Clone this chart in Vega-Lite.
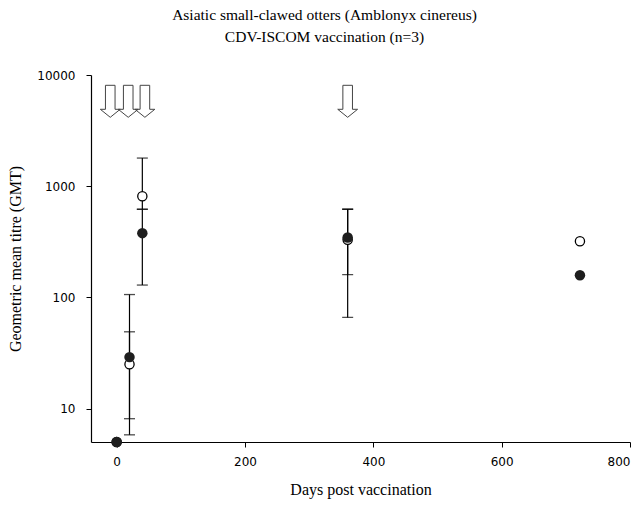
{
  "$schema": "https://vega.github.io/schema/vega-lite/v6.json",
  "width": 539,
  "height": 367,
  "autosize": {"type": "none"},
  "padding": {"left": 91, "top": 75, "right": 14, "bottom": 64},
  "background": "white",
  "title": {
    "text": ["Asiatic small-clawed otters (Amblonyx cinereus)", "CDV-ISCOM vaccination (n=3)"],
    "font": "Liberation Serif",
    "fontSize": 15.5,
    "fontWeight": "normal",
    "color": "black",
    "lineHeight": 22,
    "anchor": "middle",
    "frame": "group",
    "dx": -36,
    "offset": 24
  },
  "datasets": {
    "pts": [
      {"day": 0, "series": "open", "gmt": 5},
      {"day": 0, "series": "filled", "gmt": 5},
      {"day": 20, "series": "open", "gmt": 25},
      {"day": 20, "series": "filled", "gmt": 29},
      {"day": 40, "series": "open", "gmt": 813},
      {"day": 40, "series": "filled", "gmt": 378},
      {"day": 360, "series": "open", "gmt": 330},
      {"day": 360, "series": "filled", "gmt": 345},
      {"day": 722, "series": "open", "gmt": 320},
      {"day": 722, "series": "filled", "gmt": 158}
    ],
    "errs": [
      {"day": 20, "series": "filled", "lo": 8.1, "hi": 106},
      {"day": 20, "series": "open", "lo": 5.8, "hi": 49},
      {"day": 40, "series": "filled", "lo": 129, "hi": 620},
      {"day": 40, "series": "open", "lo": 620, "hi": 1790},
      {"day": 360, "series": "filled", "lo": 160, "hi": 620},
      {"day": 360, "series": "open", "lo": 66, "hi": 620}
    ],
    "arrows": [
      {"day": -10, "level": 5800},
      {"day": 18, "level": 5800},
      {"day": 44, "level": 5800},
      {"day": 360, "level": 5800}
    ]
  },
  "layer": [
    {
      "data": {"name": "errs"},
      "mark": {"type": "rule", "color": "black", "strokeWidth": 1.2},
      "encoding": {
        "x": {"field": "day", "type": "quantitative", "scale": {"domain": [-40, 800], "nice": false, "zero": false},
          "axis": {"title": "Days post vaccination", "values": [0, 200, 400, 600, 800], "grid": false}},
        "y": {"field": "lo", "type": "quantitative", "scale": {"type": "log", "domain": [5, 10000], "nice": false, "zero": false},
          "axis": {"title": "Geometric mean titre (GMT)", "values": [10, 100, 1000, 10000], "format": "d", "grid": false}},
        "y2": {"field": "hi"}
      }
    },
    {
      "data": {"name": "errs"},
      "mark": {"type": "tick", "orient": "horizontal", "color": "black", "size": 11, "thickness": 1.3},
      "encoding": {
        "x": {"field": "day", "type": "quantitative"},
        "y": {"field": "lo", "type": "quantitative"}
      }
    },
    {
      "data": {"name": "errs"},
      "mark": {"type": "tick", "orient": "horizontal", "color": "black", "size": 11, "thickness": 1.3},
      "encoding": {
        "x": {"field": "day", "type": "quantitative"},
        "y": {"field": "hi", "type": "quantitative"}
      }
    },
    {
      "data": {"name": "pts"},
      "transform": [{"filter": "datum.series === 'open'"}],
      "mark": {"type": "point", "shape": "circle", "filled": true, "fill": "white", "stroke": "black", "strokeWidth": 1.3, "size": 85, "opacity": 1},
      "encoding": {
        "x": {"field": "day", "type": "quantitative"},
        "y": {"field": "gmt", "type": "quantitative"}
      }
    },
    {
      "data": {"name": "pts"},
      "transform": [{"filter": "datum.series === 'filled'"}],
      "mark": {"type": "point", "shape": "circle", "filled": true, "color": "#1e1e1e", "size": 110, "opacity": 1},
      "encoding": {
        "x": {"field": "day", "type": "quantitative"},
        "y": {"field": "gmt", "type": "quantitative"}
      }
    },
    {
      "data": {"name": "arrows"},
      "mark": {"type": "point", "shape": "M -0.3 -1 L 0.3 -1 L 0.3 0.5 L 0.62 0.5 L 0 1 L -0.62 0.5 L -0.3 0.5 Z", "filled": false, "stroke": "#444", "strokeWidth": 1, "size": 1024, "opacity": 1},
      "encoding": {
        "x": {"field": "day", "type": "quantitative"},
        "y": {"field": "level", "type": "quantitative"}
      }
    }
  ],
  "config": {
    "view": {"stroke": null},
    "axis": {
      "domainColor": "black",
      "domainWidth": 1.2,
      "tickColor": "black",
      "tickSize": 5,
      "tickWidth": 1,
      "labelFont": "DejaVu Sans",
      "labelFontSize": 12,
      "labelColor": "black",
      "titleFont": "Liberation Serif",
      "titleFontSize": 16,
      "titleFontWeight": "normal",
      "titleColor": "black"
    },
    "axisX": {"labelPadding": 9, "titlePadding": 14},
    "axisY": {"labelPadding": 11, "titlePadding": 13}
  }
}
